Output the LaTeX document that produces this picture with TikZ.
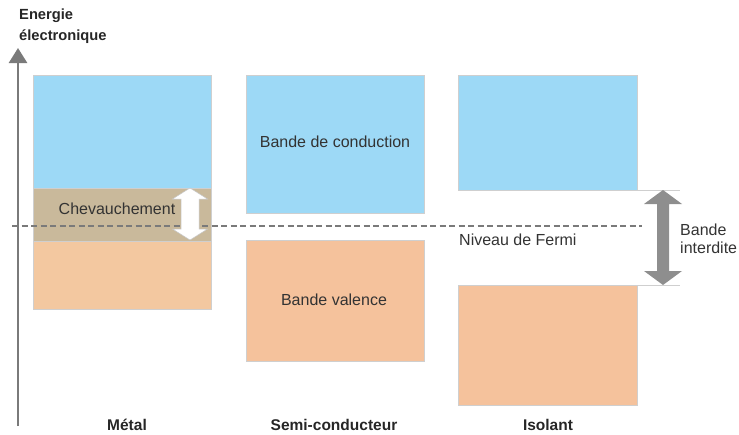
\documentclass[tikz,border=0pt]{standalone}
\usepackage{fontspec}
\setmainfont{Liberation Sans}
\usetikzlibrary{arrows.meta}
\definecolor{cblue}{HTML}{9DD9F6}
\definecolor{corange}{HTML}{F5C29C}
\definecolor{cmorange}{HTML}{F3C8A0}
\definecolor{cbrown}{HTML}{C9B99B}
\definecolor{ctext}{HTML}{333333}
\definecolor{caxis}{HTML}{7A7A7A}
\definecolor{cedge}{HTML}{CFCFCF}
\newcommand\blockarrow[7]{%
  % #1 x, #2 top, #3 bottom, #4 shaft half, #5 head half, #6 head length, #7 style
  \path[#7] (#1,#2) -- (#1+#5,#2+#6) -- (#1+#4,#2+#6) -- (#1+#4,#3-#6) -- (#1+#5,#3-#6)
    -- (#1,#3) -- (#1-#5,#3-#6) -- (#1-#4,#3-#6) -- (#1-#4,#2+#6) -- (#1-#5,#2+#6) -- cycle;}
\tikzset{
  band/.style={draw=cedge, line width=0.5pt},
  lbl/.style={text=ctext, font=\fontsize{16}{18}\selectfont, inner sep=0pt},
  title/.style={text=black!85, font=\bfseries\fontsize{15.5}{18}\selectfont, inner sep=0pt},
  ytitle/.style={text=black!85, font=\bfseries\fontsize{14.7}{17}\selectfont, inner sep=0pt},
}
\begin{document}
\begin{tikzpicture}[x=1pt,y=-1pt]
\useasboundingbox (0,0) rectangle (739,434);
% metal
\path[band, fill=cblue] (33,75) rectangle (211,188);
\path[band, fill=cbrown] (33,188) rectangle (211,241);
\path[band, fill=cmorange] (33,241) rectangle (211,309);
% semi
\path[band, fill=cblue] (246,75) rectangle (424,213);
\path[band, fill=corange] (246,240) rectangle (424,361);
% isolant
\path[band, fill=cblue] (458,75) rectangle (637,190);
\path[band, fill=corange] (458,285) rectangle (637,405);
% axis
\coordinate (axb) at (18,426);
\coordinate (axt) at (18,48);
\draw[caxis, line width=2.6pt, -{Triangle[width=18pt,length=15pt]}] (axb) -- (axt);
% fermi
\coordinate (f1) at (12,226);
\coordinate (f2) at (642,226);
\draw[caxis, line width=1.4pt, dash pattern=on 6pt off 3.5pt] (f1) -- (f2);
% overlap arrow
\blockarrow{190}{188}{240}{9}{17.5}{11}{fill=white, draw=gray!45, line width=0.5pt}
% gap lines and arrow
\coordinate (g1a) at (637,190); \coordinate (g1b) at (680,190);
\coordinate (g2a) at (637,285); \coordinate (g2b) at (680,285);
\draw[cedge, line width=0.8pt] (g1a) -- (g1b);
\draw[cedge, line width=0.8pt] (g2a) -- (g2b);
\blockarrow{663}{190}{285}{6}{19}{14}{fill=caxis!85}
% texts
\node[ytitle, anchor=west] (e1) at (19,16) {Energie};
\node[ytitle, anchor=west] (e2) at (19,37) {électronique};
\node[lbl] (chev) at (117,209) {Chevauchement};
\node[lbl] (bc) at (335,142) {Bande de conduction};
\node[lbl] (bv) at (334,300) {Bande valence};
\node[lbl, anchor=west] (nf) at (459,240) {Niveau de Fermi};
\node[lbl, anchor=west] (bi1) at (680,230) {Bande};
\node[lbl, anchor=west] (bi2) at (680,248) {interdite};
\node[title, anchor=base] (m) at (127,430) {Métal};
\node[title, anchor=base] (s) at (334,430) {Semi-conducteur};
\node[title, anchor=base] (i) at (548,430) {Isolant};
\end{tikzpicture}
\end{document}
